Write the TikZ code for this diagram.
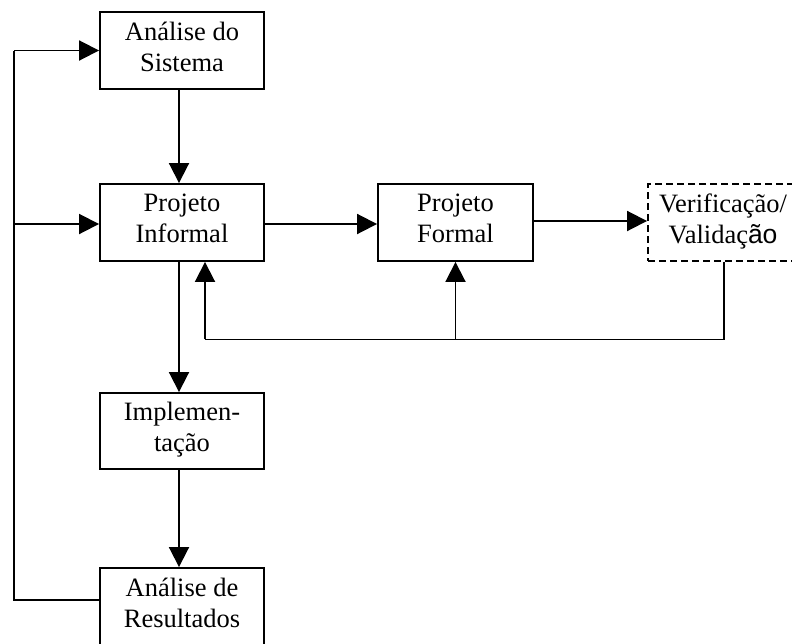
\documentclass[tikz,border=0pt]{standalone}
\usepackage{fontspec}
\setmainfont{Liberation Serif}
\newfontfamily\sansalt{Liberation Sans}
\usetikzlibrary{arrows.meta,calc}
\begin{document}
\begin{tikzpicture}[x=1pt,y=-1pt,
  line width=1.9pt,
  font=\fontsize{26.5}{31}\selectfont,
  stage/.style={draw,rectangle,align=center,inner sep=0pt,text depth=8pt,
    minimum width=164pt,minimum height=77pt},
  flow/.style={-{Triangle[length=20pt,width=20pt]}}]
\useasboundingbox (0,0) rectangle (792,643);
\clip (0,0) rectangle (792,643);

% process stages
\node[stage] (AS) at (182,50.5) {Análise do\\Sistema};
\node[stage] (PI) at (182,222.5) {Projeto\\Informal};
\node[stage,minimum width=155pt] (PF) at (455.5,222.5) {Projeto\\Formal};
\node[stage,minimum width=150pt,dash pattern=on 7pt off 4pt] (VV) at (723,222.5)
  {Verificação/\\Validaç{\sansalt ão}};
\node[stage,minimum height=76pt] (IM) at (182,431) {Implemen-\\tação};
\node[stage] (AR) at (182,606.5) {Análise de\\Resultados};

% main downward flow
\draw[flow] ($(AS.south)+(-3,0)$) -- ($(PI.north)+(-3,0)$);
\draw[flow] ($(PI.south)+(-3,0)$) -- ($(IM.north)+(-3,0)$);
\draw[flow] ($(IM.south)+(-3,0)$) -- ($(AR.north)+(-3,0)$);

% formal branch
\draw[flow] ($(PI.east)+(0,1.5)$) -- ($(PF.west)+(0,1.5)$);
\draw[flow] ($(PF.east)+(0,-1.5)$) -- ($(VV.west)+(0,-1.5)$);

% feedback from verification
\coordinate (fbR) at ($(VV.south)+(1,77.5)$);
\coordinate (fbM) at ($(PF.south)+(0,77.5)$);
\coordinate (fbL) at ($(PI.south)+(23,77.5)$);
\draw ($(VV.south)+(1,0)$) -- (fbR) -- (fbL);
\draw[flow] (fbL) -- ($(PI.south)+(23,0)$);
\draw[flow] (fbM) -- (PF.south);

% outer loop back to the start
\coordinate (loopB) at (14,600);
\coordinate (loopT) at (14,50.5);
\coordinate (loopM) at (14,224);
\draw (AR.west |- loopB) -- (loopB) -- (loopT);
\draw[flow] (loopT) -- (AS.west);
\draw[flow] (loopM) -- (PI.west |- loopM);
\end{tikzpicture}
\end{document}
